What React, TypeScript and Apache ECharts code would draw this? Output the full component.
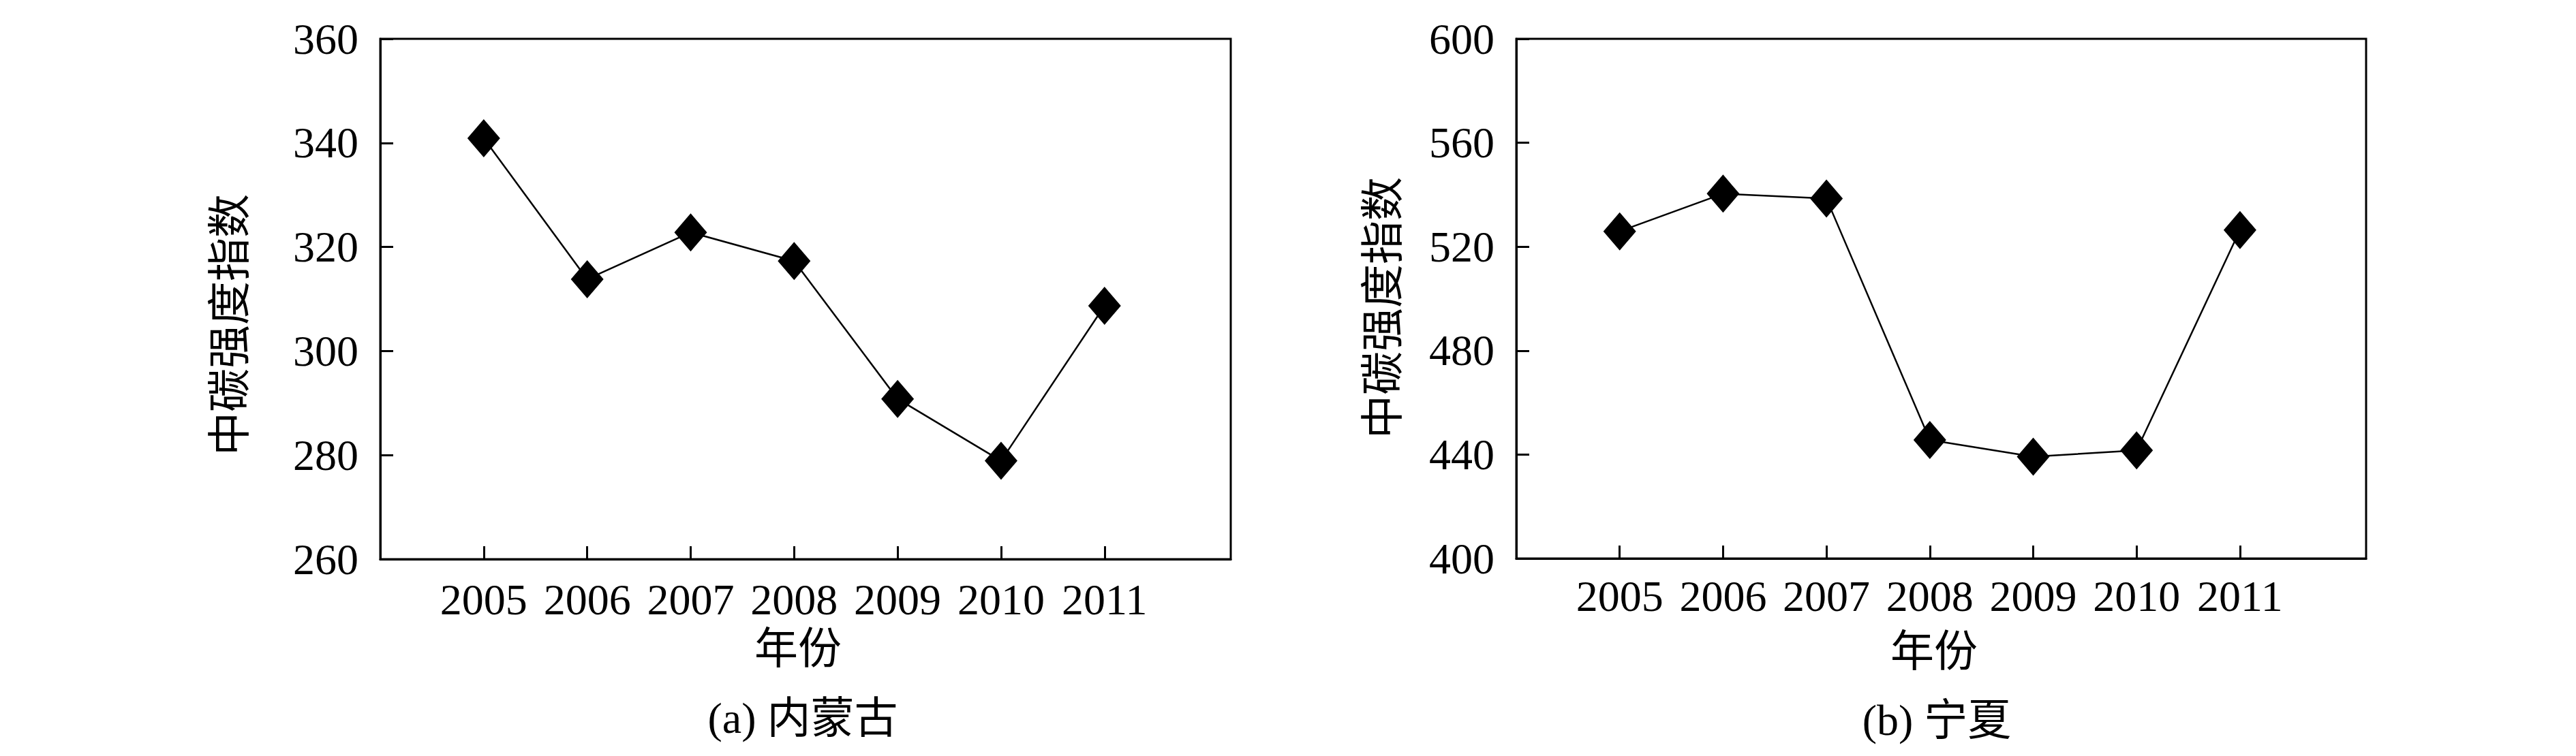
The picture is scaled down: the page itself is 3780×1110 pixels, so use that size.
import React, { useEffect, useRef } from "react";
import * as echarts from "echarts";

const years = [2005, 2006, 2007, 2008, 2009, 2010, 2011];
const neimengguValues = [340.9, 313.8, 322.8, 317.3, 290.8, 278.9, 308.7];
const ningxiaValues = [525.9, 540.4, 538.5, 445.6, 439.2, 441.6, 526.4];
const neimengguYRange = [260, 360];
const neimengguYStep = 20;
const ningxiaYRange = [400, 600];
const ningxiaYStep = 40;
const xRange = [2004, 2012.22];
const yAxisName = "中碳强度指数";
const xAxisName = "年份";
const captions = ["(a) 内蒙古", "(b) 宁夏"];

const FONT = "'Liberation Serif', 'Times New Roman', 'Noto Sans CJK SC', serif";
const FS = 64;

export default function App() {
  const ref = useRef<HTMLDivElement>(null);

  useEffect(() => {
    document.body.style.margin = "0";
    if (!ref.current) return;
    const chart = echarts.init(ref.current, undefined, { renderer: "svg" });

    const grids = [
      { left: 558, top: 57, width: 1248, height: 764 },
      { left: 2225, top: 57, width: 1247, height: 763 },
    ];

    const xAxisBase = (gridIndex: number, margin: number) => ({
      type: "value",
      gridIndex,
      min: xRange[0],
      max: xRange[1],
      interval: 1,
      splitLine: { show: false },
      axisLine: { show: true, lineStyle: { color: "#000", width: 3 } },
      axisTick: {
        show: true,
        inside: true,
        length: 19,
        customValues: years,
        lineStyle: { color: "#000", width: 3 },
      },
      axisLabel: {
        show: true,
        customValues: years,
        margin,
        fontSize: FS,
        fontFamily: FONT,
        color: "#000",
        formatter: (v: number) => String(v),
      },
    });

    const yAxisBase = (gridIndex: number, range: number[], step: number) => ({
      type: "value",
      gridIndex,
      min: range[0],
      max: range[1],
      interval: step,
      splitLine: { show: false },
      axisLine: { show: true, lineStyle: { color: "#000", width: 3 } },
      axisTick: {
        show: true,
        inside: true,
        length: 19,
        lineStyle: { color: "#000", width: 3 },
      },
      axisLabel: {
        show: true,
        margin: 32,
        fontSize: FS,
        fontFamily: FONT,
        color: "#000",
      },
    });

    const seriesBase = (idx: number, values: number[]) => ({
      type: "line",
      xAxisIndex: idx,
      yAxisIndex: idx,
      data: years.map((y, i) => [y, values[i]]),
      symbol: "diamond",
      symbolSize: [48, 56],
      itemStyle: { color: "#000" },
      lineStyle: { color: "#000", width: 2.5 },
      z: 3,
    });

    const textEl = (x: number, y: number, text: string, rotation = 0) => ({
      type: "text",
      x,
      y,
      rotation,
      style: {
        text,
        fontSize: FS,
        fontFamily: FONT,
        fill: "#000",
        textAlign: "center",
        textVerticalAlign: "middle",
      },
    });

    chart.setOption({
      animation: false,
      backgroundColor: "#fff",
      grid: grids.map((g) => ({
        ...g,
        show: true,
        borderColor: "#000",
        borderWidth: 3,
        backgroundColor: "transparent",
      })),
      xAxis: [xAxisBase(0, 27), xAxisBase(1, 23)],
      yAxis: [
        yAxisBase(0, neimengguYRange, neimengguYStep),
        yAxisBase(1, ningxiaYRange, ningxiaYStep),
      ],
      series: [seriesBase(0, neimengguValues), seriesBase(1, ningxiaValues)],
      graphic: [
        textEl(337, 477, yAxisName, Math.PI / 2),
        textEl(2029, 452, yAxisName, Math.PI / 2),
        textEl(1171, 952, xAxisName),
        textEl(2838, 956, xAxisName),
        textEl(1178, 1054, captions[0]),
        textEl(2842, 1057, captions[1]),
      ],
    });

    return () => chart.dispose();
  }, []);

  return <div ref={ref} style={{ width: 3780, height: 1110 }} />;
}
